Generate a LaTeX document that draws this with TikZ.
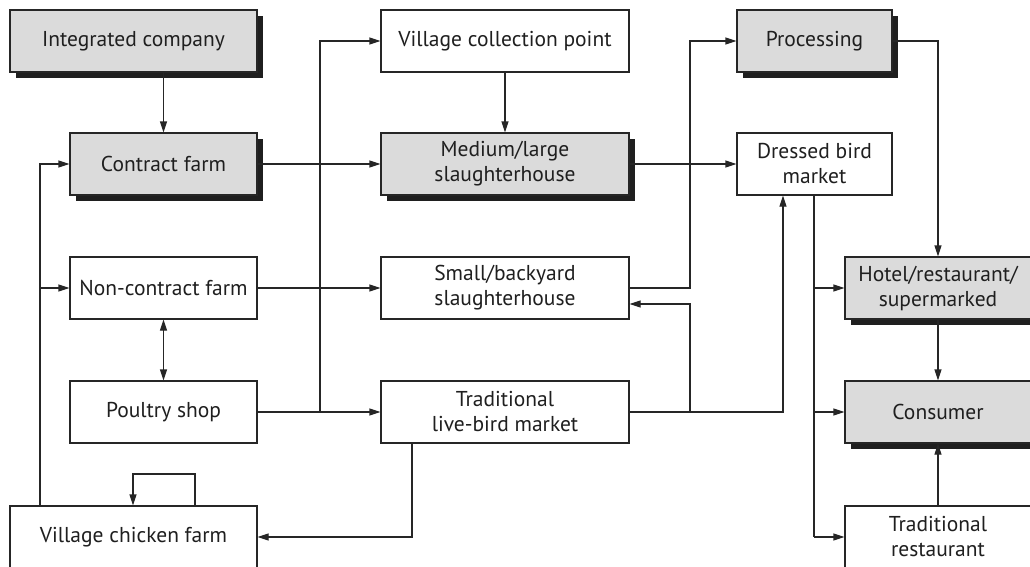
\documentclass[tikz,border=0pt]{standalone}
\usepackage{fontspec}
\setmainfont{PT Sans}
\usetikzlibrary{arrows.meta,shadows}
\begin{document}
\begin{tikzpicture}[x=1pt,y=-1pt,
  font=\fontsize{21.5}{25}\selectfont,
  base/.style={draw=black!85, line width=1.1pt, minimum height=62pt, inner sep=0pt,
    align=center, text=black!88},
  plain/.style={base, fill=white},
  shaded/.style={base, fill=black!14,
    general shadow={shadow xshift=6pt, shadow yshift=-6pt, fill=black!88}},
  wideA/.style={minimum width=247pt},
  narrowA/.style={minimum width=187pt},
  midcol/.style={minimum width=248pt},
  col3/.style={minimum width=155pt},
  col4/.style={minimum width=186pt},
  link/.style={draw=black!85, line width=1.1pt},
  arr/.style={link, -{Triangle[length=11pt,width=7pt]}},
  darr/.style={link, {Triangle[length=11pt,width=7pt]}-{Triangle[length=11pt,width=7pt]}}
]
\useasboundingbox (0,0) rectangle (1030,566);
\clip (0,0) rectangle (1030,566);
\fill[white] (0,0) rectangle (1030,566);

% left column
\node[shaded, wideA]   (int) at (133.5,41)  {Integrated company};
\node[shaded, narrowA] (cf)  at (163.5,164) {Contract farm};
\node[plain, narrowA]  (ncf) at (163.5,288) {Non-contract farm};
\node[plain, narrowA]  (ps)  at (163.5,412) {Poultry shop};
\node[plain, wideA]    (vcf) at (133.5,537) {Village chicken farm};

% middle column
\node[plain, midcol]  (vcp)   at (505,41)  {Village collection point};
\node[shaded, midcol] (med)   at (505,164) {Medium/large\\slaughterhouse};
\node[plain, midcol]  (small) at (505,288) {Small/backyard\\slaughterhouse};
\node[plain, midcol]  (trad)  at (505,412) {Traditional\\live-bird market};

% processing and dressed-bird column
\node[shaded, col3] (proc) at (814.5,41)  {Processing};
\node[plain, col3]  (dbm)  at (814.5,164) {Dressed bird\\market};

% final outlets
\node[shaded, col4] (hotel) at (938,288) {Hotel/restaurant/\\supermarked};
\node[shaded, col4] (cons)  at (938,412) {Consumer};
\node[plain, col4]  (trest) at (938,537) {Traditional\\restaurant};

% helper columns for the routed lines
\coordinate (sp) at (40,0);
\coordinate (b1) at (320,0);
\coordinate (b2) at (690,0);
\coordinate (b3) at (783,0);
\coordinate (b4) at (412,0);
\coordinate (b5) at (814,0);
\coordinate (lpR) at (195,474);
\coordinate (lpL) at (133,474);

% left column flows
\draw[arr] (cf.north |- int.south) -- (cf.north);
\draw[arr] (vcf.north -| sp) |- (cf.west);
\draw[arr] (ncf.west -| sp) -- (ncf.west);
\draw[darr] (ncf.south) -- (ps.north);
\draw[arr] (lpR |- vcf.north) -- (lpR) -- (lpL) -- (lpL |- vcf.north);

% into the middle column
\draw[arr] (cf.east) -- (med.west);
\draw[arr] (ncf.east) -- (small.west);
\draw[arr] (ps.east) -- (trad.west);
\draw[arr] (ps.east -| b1) |- (vcp.west);
\draw[arr] (vcp.south) -- (med.north);
\draw[arr] (trad.south -| b4) |- (vcf.east);

% towards processing and the dressed bird market
\draw[arr] (med.east) -- (dbm.west);
\draw[arr] (small.east) -| (b2 |- proc.west) -- (proc.west);
\draw[arr] (trad.east -| b2) |- ([yshift=-16pt]small.east);
\draw[arr] (trad.east) -| (dbm.south -| b3);

% distribution to the outlets
\draw[link] (dbm.south -| b5) -- (b5 |- trest.west);
\draw[arr] (hotel.west -| b5) -- (hotel.west);
\draw[arr] (cons.west -| b5) -- (cons.west);
\draw[arr] (trest.west -| b5) -- (trest.west);
\draw[arr] (proc.east) -| (hotel.north);
\draw[arr] (hotel.south) -- (cons.north);
\draw[arr] (trest.north) -- (cons.south);
\end{tikzpicture}
\end{document}
